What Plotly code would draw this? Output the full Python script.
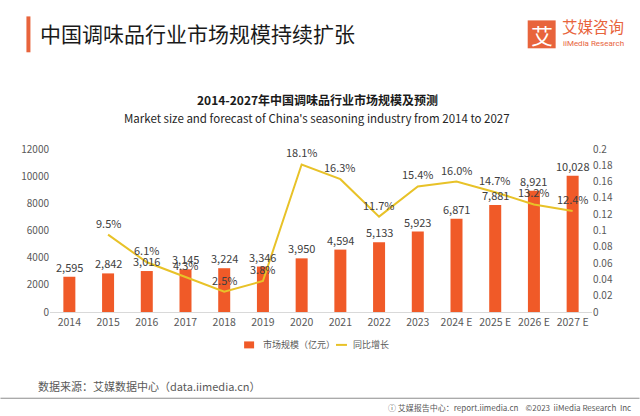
import plotly.graph_objects as go

categories = ["2014", "2015", "2016", "2017", "2018", "2019", "2020", "2021",
              "2022", "2023", "2024 E", "2025 E", "2026 E", "2027 E"]
market_size = [2595, 2842, 3016, 3145, 3224, 3346, 3950, 4594,
               5133, 5923, 6871, 7881, 8921, 10028]
growth_cats = categories[1:]
growth = [0.095, 0.061, 0.043, 0.025, 0.038, 0.181, 0.163,
          0.117, 0.154, 0.160, 0.147, 0.132, 0.124]
legend_names = ["市场规模（亿元）", "同比增长"]

W, H = 640, 416
L, R, T, B = 49.6, 592.4, 149.0, 312.5
CJK = "Noto Sans CJK SC"
BAR_C = "#F05A28"
LINE_C = "#E8C228"
TXT = "#404040"


def px(x):
    return (x - L) / (R - L)


def py(y):
    return (B - y) / (B - T)


fig = go.Figure()
fig.add_trace(go.Bar(
    x=categories, y=market_size, name=legend_names[0],
    marker=dict(color=BAR_C, line=dict(width=0)), width=0.31, showlegend=False,
))
fig.add_trace(go.Scatter(
    x=growth_cats, y=growth, name=legend_names[1], yaxis="y2", mode="lines",
    line=dict(color=LINE_C, width=2), showlegend=False,
))

fig.update_layout(
    width=W, height=H,
    margin=dict(l=L, r=W - R, t=T, b=H - B, pad=0),
    paper_bgcolor="white", plot_bgcolor="white",
    font=dict(family=CJK, color=TXT),
    showlegend=False,
    xaxis=dict(type="category", range=[-0.5, len(categories) - 0.5], showgrid=False,
               showline=True, linecolor="#D9D9D9",
               ticks="", tickfont=dict(size=10.5, color="#595959")),
    yaxis=dict(range=[0, 12000], dtick=2000, tickformat="d", showgrid=False,
               zeroline=False, showline=False, ticks="",
               tickfont=dict(size=10, color="#595959")),
    yaxis2=dict(range=[0, 0.2], dtick=0.02, overlaying="y", side="right",
                showgrid=False, zeroline=False, showline=False, ticks="",
                tickfont=dict(size=10, color="#595959")),
)

shapes = [
    dict(type="rect", x0=px(26), x1=px(30), y0=py(52), y1=py(16),
         fillcolor="#E8643C", line=dict(width=0)),
    dict(type="rect", x0=px(528), x1=px(556), y0=py(48), y1=py(20),
         fillcolor="#E8643C", line=dict(width=0)),
    dict(type="line", x0=px(0), x1=px(640), y0=py(399), y1=py(399),
         line=dict(color="#8C8C8C", width=1)),
    # legend symbols
    dict(type="rect", x0=px(244), x1=px(254), y0=py(349), y1=py(342),
         fillcolor=BAR_C, line=dict(width=0)),
    dict(type="line", x0=px(336), x1=px(347), y0=py(345.5), y1=py(345.5),
         line=dict(color=LINE_C, width=2)),
]
for s in shapes:
    s.update(xref="paper", yref="paper", layer="above")
fig.update_layout(shapes=shapes)

annotations = [
    dict(text="中国调味品行业市场规模持续扩张", x=px(39), y=py(33), xanchor="left", yanchor="middle",
         font=dict(family=CJK, size=21, color="#1A1A1A")),
    dict(text="艾", x=px(542), y=py(34), xanchor="center", yanchor="middle",
         font=dict(family=CJK, size=22, color="white")),
    dict(text="艾媒咨询", x=px(561), y=py(26), xanchor="left", yanchor="middle",
         font=dict(family=CJK, size=15.5, color="#E8643C")),
    dict(text="iiMedia Research", x=px(562), y=py(43), xanchor="left", yanchor="middle",
         font=dict(family="Liberation Sans Narrow, Roboto", size=8, color="#E8643C")),
    dict(text="<b>2014-2027年中国调味品行业市场规模及预测</b>", x=px(317), y=py(99),
         xanchor="center", yanchor="middle", font=dict(family=CJK, size=12, color="#1A1A1A")),
    dict(text="Market size and forecast of China's seasoning industry from 2014 to 2027", x=px(317), y=py(118),
         xanchor="center", yanchor="middle", font=dict(family=CJK, size=11.5, color="#262626")),
    dict(text=legend_names[0], x=px(262), y=py(345.5), xanchor="left", yanchor="middle",
         font=dict(family=CJK, size=9, color="#595959")),
    dict(text=legend_names[1], x=px(352), y=py(345.5), xanchor="left", yanchor="middle",
         font=dict(family=CJK, size=9, color="#595959")),
    dict(text="数据来源：艾媒数据中心（data.iimedia.cn）", x=px(37), y=py(387), xanchor="left", yanchor="middle",
         font=dict(family=CJK, size=11, color="#595959")),
    dict(text="\u24d8 艾媒报告中心：report.iimedia.cn    ©2023  iiMedia Research  Inc", x=px(632), y=py(408),
         xanchor="right", yanchor="middle", font=dict(family=CJK, size=8, color="#595959")),
]
for a in annotations:
    a.update(xref="paper", yref="paper", showarrow=False, borderpad=0)

for i, v in enumerate(market_size):
    annotations.append(dict(text=f"{v:,}", x=i, y=v, xref="x", yref="y", showarrow=False,
                            xanchor="center", yanchor="middle", yshift=10, borderpad=0,
                            font=dict(family=CJK, size=11, color=TXT)))
for j, g in enumerate(growth):
    i = categories.index(growth_cats[j])
    annotations.append(dict(text=f"{g * 100:.1f}%", x=i, y=g, xref="x", yref="y2", showarrow=False,
                            xanchor="center", yanchor="middle", yshift=12, borderpad=0,
                            font=dict(family=CJK, size=11, color=TXT)))
fig.update_layout(annotations=annotations)

fig.write_html("out.html")
